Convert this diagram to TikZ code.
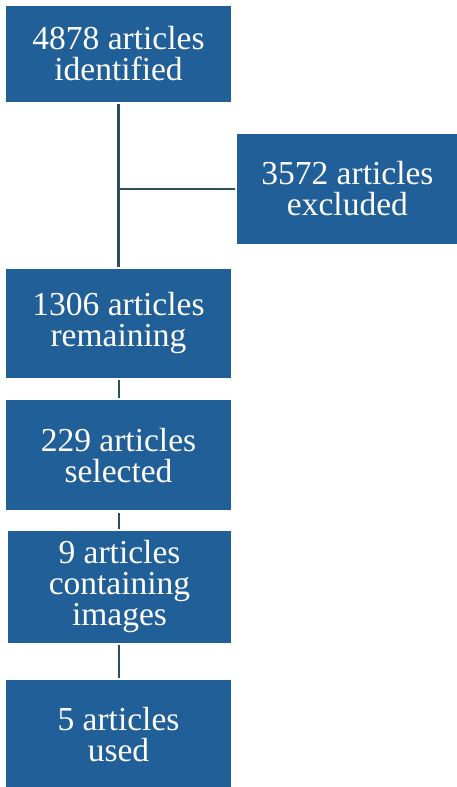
\documentclass[tikz,border=0pt]{standalone}
\usepackage{fontspec}
\setmainfont{Liberation Serif}
\usepackage{xcolor}
\usetikzlibrary{positioning}

\definecolor{boxblue}{HTML}{215F98}
\definecolor{linkgrey}{HTML}{2A4F5F}

\begin{document}
\begin{tikzpicture}[x=1pt, y=1pt,
	artbox/.style={fill=boxblue, text=white, align=center, inner sep=0pt,
		minimum width=225pt, minimum height=109pt,
		font=\fontsize{33.5}{31}\selectfont},
	link/.style={draw=linkgrey, line width=2pt, shorten <=2pt, shorten >=2pt}]

\useasboundingbox (0,0) rectangle (457,-787);

\node [artbox, minimum height=96pt] (found) at (118.5,-53.5) {4878 articles\\identified};
\node [artbox, minimum width=220pt, minimum height=110pt, below right=32pt and 6pt of found] (excl) {3572 articles\\excluded};
\node [artbox, below=167pt of found] (remain) {1306 articles\\remaining};
\node [artbox, minimum height=110pt, below=22pt of remain] (select) {229 articles\\selected};
\node [artbox, minimum width=223pt, minimum height=112pt, below=20pt of select, xshift=1pt] (image) {9 articles\\containing\\images};
\node [artbox, below=37pt of image, xshift=-1pt] (used) {5 articles\\used};

\draw [link, line width=3pt] (found) -- (remain);
\draw [link, shorten <=0pt] (excl.west -| found) -- (excl.west);
\draw [link] (remain) -- (select);
\draw [link] (select) -- (image.north -| select);
\draw [link] (image.south -| used) -- (used);

\end{tikzpicture}
\end{document}
